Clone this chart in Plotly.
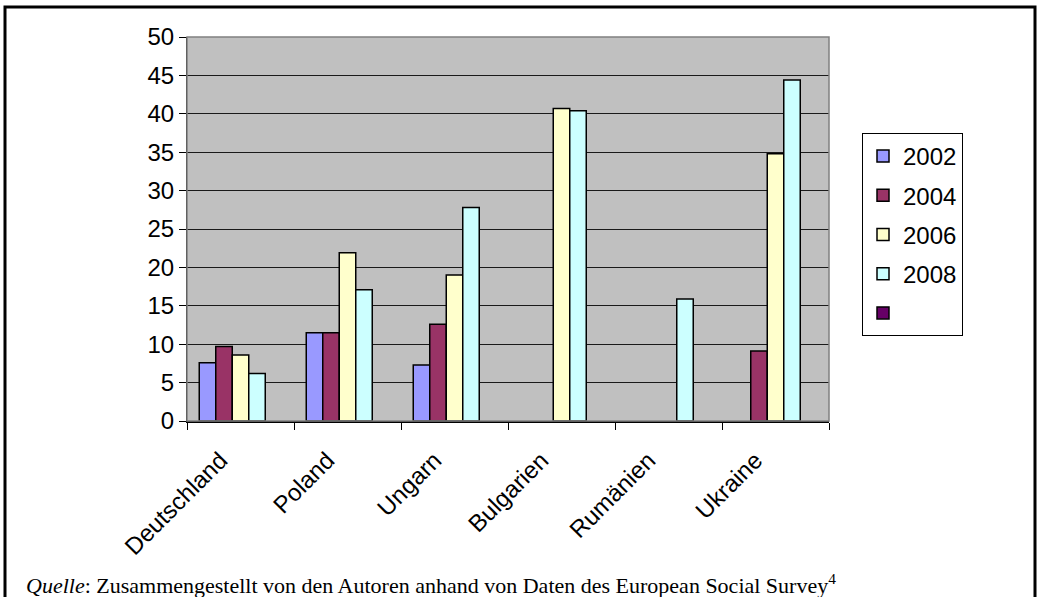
import plotly.graph_objects as go

categories = ["Deutschland", "Poland", "Ungarn", "Bulgarien", "Rumänien", "Ukraine"]
series_names = ["2002", "2004", "2006", "2008", " "]
v2002 = [7.6, 11.5, 7.3, None, None, None]
v2004 = [9.7, 11.5, 12.6, None, None, 9.1]
v2006 = [8.6, 21.9, 19.0, 40.7, None, 34.8]
v2008 = [6.2, 17.1, 27.8, 40.4, 15.9, 44.4]
v_extra = [None, None, None, None, None, None]
y_ticks = [0, 5, 10, 15, 20, 25, 30, 35, 40, 45, 50]

colors = ["#9999FF", "#993366", "#FFFFCC", "#CCFFFF", "#660066"]
values = [v2002, v2004, v2006, v2008, v_extra]

fig = go.Figure()
for i, (name, vals, col) in enumerate(zip(series_names, values, colors)):
    fig.add_trace(go.Bar(
        x=categories, y=vals, name=name,
        marker=dict(color=col, line=dict(color="black", width=1.5)),
        legendgroup=f"g{i}",
    ))

W, H = 1040, 597
L, R, T, B = 187, 829, 37, 421
pw, ph = R - L, B - T

def px(x):
    return (x - L) / pw

def py(y):
    return (B - y) / ph

fig.update_layout(
    width=W, height=H,
    margin=dict(l=L, r=W - R, t=T, b=H - B),
    paper_bgcolor="white",
    plot_bgcolor="#C0C0C0",
    barmode="group",
    bargap=0.229,
    bargroupgap=0,
    font=dict(family="Liberation Sans, Arial, sans-serif", size=24, color="black"),
    showlegend=True,
    legend=dict(
        x=px(862), y=py(133), xanchor="left", yanchor="top",
        bgcolor="white", bordercolor="black", borderwidth=1,
        font=dict(size=24), traceorder="grouped", tracegroupgap=5,
        itemwidth=30,
    ),
    xaxis=dict(
        type="category", tickangle=-45, tickson="boundaries",
        ticks="outside", ticklen=7, tickcolor="black",
        showline=True, linecolor="black", linewidth=1.5,
        showgrid=False, mirror=False,
        tickfont=dict(size=24),
        ticklabelstandoff=14, ticklabelshift=-20,
    ),
    yaxis=dict(
        range=[0, 50], tickvals=y_ticks,
        ticks="outside", ticklen=7, tickcolor="black",
        showline=True, linecolor="black", linewidth=1,
        showgrid=True, gridcolor="#1a1a1a", gridwidth=1,
        zeroline=False, tickfont=dict(size=24),
    ),
    shapes=[
        dict(type="rect", xref="paper", yref="paper",
             x0=px(187), x1=px(829), y0=py(421), y1=py(37),
             line=dict(color="#808080", width=1.5), fillcolor="rgba(0,0,0,0)", layer="above"),
        dict(type="rect", xref="paper", yref="paper",
             x0=px(5), x1=px(1035), y0=py(620), y1=py(7),
             line=dict(color="black", width=3), fillcolor="rgba(0,0,0,0)"),
    ],
    annotations=[
        dict(xref="paper", yref="paper", x=px(24), y=py(584),
             xanchor="left", yanchor="middle", showarrow=False,
             text="<i>Quelle</i>: Zusammengestellt von den Autoren anhand von Daten des European Social Survey<sup>4</sup>",
             font=dict(family="Liberation Serif, Times New Roman, serif", size=22, color="black")),
    ],
)

fig.write_html("out.html")
